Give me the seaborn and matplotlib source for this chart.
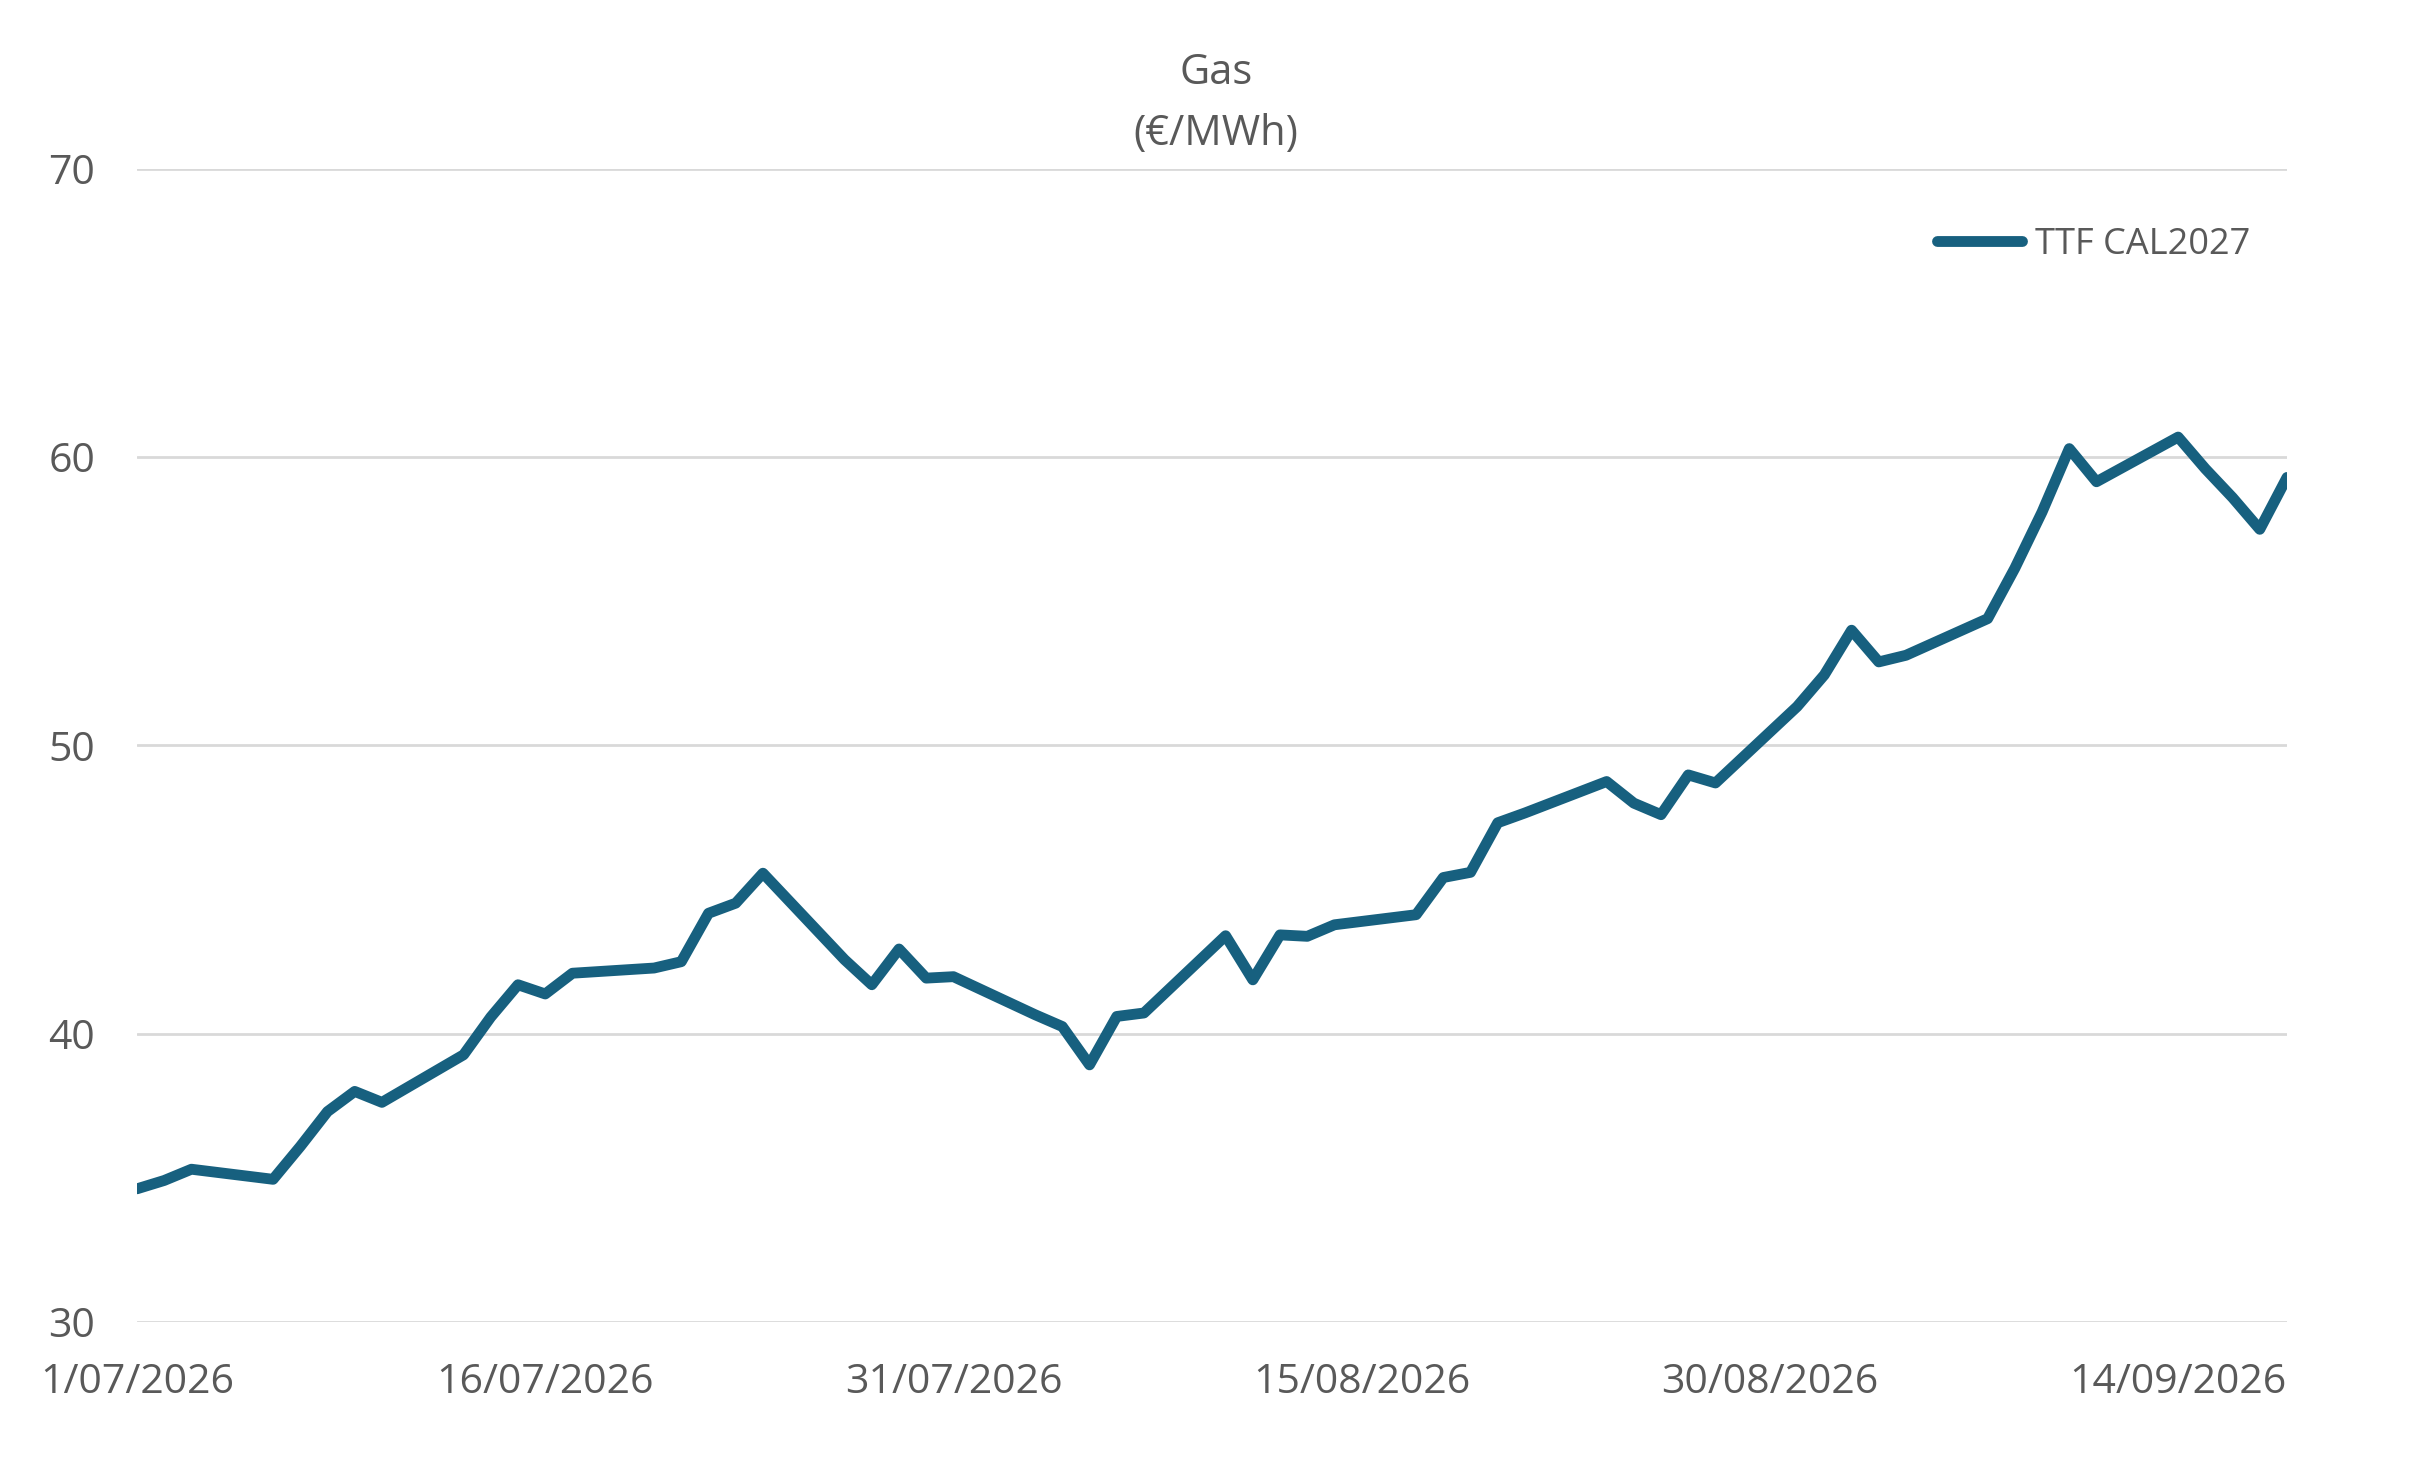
import matplotlib.pyplot as plt
import matplotlib.dates as mdates
import matplotlib.ticker as tkr
import pandas as pd
import seaborn as sns

# ------------------------------------------ DATA ------------------------------------------ #
trade_dates = [
    '2026-07-01', '2026-07-02', '2026-07-03',
    '2026-07-06', '2026-07-07', '2026-07-08', '2026-07-09', '2026-07-10',
    '2026-07-13', '2026-07-14', '2026-07-15', '2026-07-16', '2026-07-17',
    '2026-07-20', '2026-07-21', '2026-07-22', '2026-07-23', '2026-07-24',
    '2026-07-27', '2026-07-28', '2026-07-29', '2026-07-30', '2026-07-31',
    '2026-08-03', '2026-08-04', '2026-08-05', '2026-08-06', '2026-08-07',
    '2026-08-10', '2026-08-11', '2026-08-12', '2026-08-13', '2026-08-14',
    '2026-08-17', '2026-08-18', '2026-08-19', '2026-08-20', '2026-08-21',
    '2026-08-24', '2026-08-25', '2026-08-26', '2026-08-27', '2026-08-28',
    '2026-08-31', '2026-09-01', '2026-09-02', '2026-09-03', '2026-09-04',
    '2026-09-07', '2026-09-08', '2026-09-09', '2026-09-10', '2026-09-11',
    '2026-09-14', '2026-09-15', '2026-09-16', '2026-09-17', '2026-09-18',
]
ttf_cal2027 = [
    34.62, 34.91, 35.30,
    34.95, 36.09, 37.30, 38.00, 37.62,
    39.27, 40.58, 41.70, 41.38, 42.10,
    42.28, 42.50, 44.18, 44.53, 45.57,
    42.57, 41.70, 42.94, 41.93, 41.98,
    40.66, 40.25, 38.92, 40.60, 40.72,
    43.40, 41.87, 43.43, 43.38, 43.78,
    44.13, 45.42, 45.60, 47.32, 47.66,
    48.75, 48.00, 47.60, 48.98, 48.70,
    51.35, 52.45, 54.00, 52.90, 53.13,
    54.40, 56.15, 58.10, 60.30, 59.15,
    60.70, 59.60, 58.60, 57.50, 59.30,
]
series_name = 'TTF CAL2027'
x_tick_dates = ['2026-07-01', '2026-07-16', '2026-07-31', '2026-08-15', '2026-08-30', '2026-09-14']
y_ticks = [30, 40, 50, 60, 70]

LINE_COLOUR = '#17607f'
TEXT_COLOUR = '#595959'
GRID_COLOUR = '#d9d9d9'

# ------------------------------------------ CHART ------------------------------------------ #
sns.set_theme(style='white')
plt.rcParams['font.family'] = ['Open Sans', 'DejaVu Sans']

price_data = pd.DataFrame({
    'trade_date': pd.to_datetime(trade_dates),
    'settle_price': ttf_cal2027,
    'Legend': series_name,
})

fig = plt.figure(figsize=(24.35, 14.65), dpi=100)
ax = fig.add_axes([137 / 2435, 1 - 1322 / 1465, (2287 - 137) / 2435, (1322 - 169) / 1465])

sns.lineplot(ax=ax, data=price_data, x='trade_date', y='settle_price', hue='Legend',
             palette=[LINE_COLOUR], linewidth=7.8,
             solid_joinstyle='round', solid_capstyle='round')

ax.set_xlim(pd.Timestamp('2026-07-01'), pd.Timestamp('2026-09-18'))
ax.set_ylim(30, 70)
ax.set_yticks(y_ticks)
ax.set_xticks(pd.to_datetime(x_tick_dates))
ax.xaxis.set_major_formatter(
    tkr.FuncFormatter(lambda v, p: f'{mdates.num2date(v).day}/{mdates.num2date(v):%m/%Y}'))

ax.set_axisbelow(True)
ax.grid(axis='y', color=GRID_COLOUR, linewidth=2.0)
ax.grid(axis='x', visible=False)
for _, spine in ax.spines.items():
    spine.set_visible(False)
ax.tick_params(axis='both', length=0, labelsize=29.5, labelcolor=TEXT_COLOUR)
ax.tick_params(axis='y', pad=30)
ax.tick_params(axis='x', pad=29)
ax.set_xlabel('')
ax.set_ylabel('')

# titles
fig.text(0.4995, 1 - 73 / 1465, 'Gas', ha='center', va='center', fontsize=30, color=TEXT_COLOUR)
fig.text(0.4995, 1 - 134 / 1465, '(€/MWh)', ha='center', va='center', fontsize=30, color=TEXT_COLOUR)

# legend
handles, labels = ax.get_legend_handles_labels()
for h in handles:
    h.set_linewidth(7.8)
    h.set_solid_capstyle('round')
ax.legend(handles=handles, labels=labels, loc='center right',
          bbox_to_anchor=(2250 / 2435, 1 - 245 / 1465), bbox_transform=fig.transFigure,
          frameon=False, fontsize=26, labelcolor=TEXT_COLOUR,
          handlelength=2.35, handletextpad=0.35, borderpad=0, borderaxespad=0)

fig.savefig('out.png', dpi=100)
